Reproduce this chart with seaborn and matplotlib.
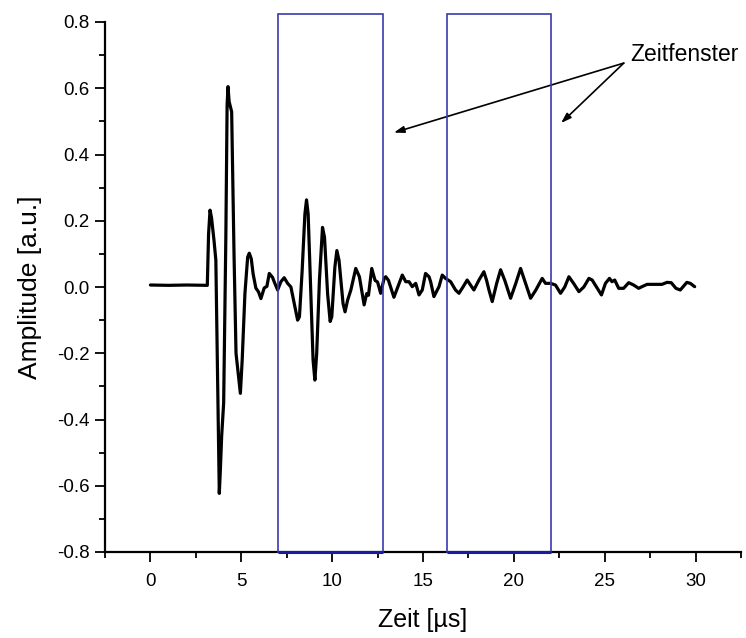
import matplotlib
matplotlib.use("Agg")
import matplotlib.pyplot as plt
import seaborn as sns
import pandas as pd
from matplotlib.patches import Rectangle
from matplotlib.ticker import MultipleLocator

# ---- data ----
time_us = [0.0, 1.0, 2.0, 3.13, 3.2, 3.28, 3.36, 3.5, 3.6, 3.7, 3.79, 3.85, 3.92, 4.03,
           4.15, 4.22, 4.27, 4.33, 4.47, 4.6, 4.71, 4.85, 4.95, 5.05, 5.2, 5.35, 5.44,
           5.55, 5.65, 5.8, 5.95, 6.08, 6.26, 6.41, 6.54, 6.72, 6.81, 7.0, 7.18, 7.36,
           7.55, 7.73, 7.95, 8.1, 8.2, 8.35, 8.5, 8.59, 8.68, 8.8, 8.95, 9.05, 9.15,
           9.3, 9.47, 9.58, 9.75, 9.89, 9.98, 10.15, 10.26, 10.38, 10.6, 10.71, 10.85,
           11.03, 11.3, 11.5, 11.76, 11.9, 12.0, 12.18, 12.36, 12.5, 12.67, 12.86,
           12.95, 13.1, 13.4, 13.86, 14.05, 14.23, 14.41, 14.6, 14.78, 14.96, 15.14,
           15.33, 15.42, 15.6, 15.88, 16.06, 16.24, 16.52, 16.79, 16.98, 17.2, 17.43,
           17.8, 18.08, 18.35, 18.5, 18.63, 18.81, 19.05, 19.27, 19.5, 19.82, 20.1,
           20.37, 20.65, 20.92, 21.2, 21.56, 21.74, 22.02, 22.29, 22.57, 22.8, 23.03,
           23.3, 23.58, 23.85, 24.13, 24.31, 24.55, 24.82, 25.04, 25.26, 25.4, 25.55,
           25.77, 26.04, 26.32, 26.59, 26.87, 27.05, 27.33, 28.15, 28.43, 28.66,
           28.92, 29.16, 29.52, 29.71, 29.95]
amplitude = [0.006, 0.005, 0.006, 0.005, 0.16, 0.232, 0.21, 0.14, 0.081, -0.3, -0.623,
             -0.55, -0.45, -0.35, 0.15, 0.55, 0.605, 0.56, 0.529, 0.1, -0.2, -0.27,
             -0.321, -0.22, -0.02, 0.09, 0.102, 0.085, 0.04, -0.003, -0.015, -0.035,
             -0.003, 0.002, 0.041, 0.029, 0.016, -0.009, 0.016, 0.028, 0.011, 0.0,
             -0.06, -0.1, -0.09, 0.05, 0.22, 0.263, 0.22, 0.02, -0.22, -0.281, -0.2,
             0.02, 0.18, 0.15, -0.02, -0.104, -0.09, 0.06, 0.11, 0.08, -0.05, -0.075,
             -0.04, -0.009, 0.056, 0.031, -0.054, -0.02, -0.025, 0.056, 0.02, 0.015,
             -0.019, 0.026, 0.031, 0.02, -0.031, 0.036, 0.016, 0.016, 0.001, 0.011,
             -0.024, -0.009, 0.041, 0.031, 0.016, -0.029, 0.001, 0.036, 0.026, 0.016,
             -0.009, -0.019, 0.0, 0.021, -0.009, 0.021, 0.046, 0.02, -0.009, -0.044,
             0.01, 0.052, 0.02, -0.034, 0.01, 0.056, 0.01, -0.034, -0.01, 0.026, 0.011,
             0.011, 0.006, -0.019, 0.0, 0.031, 0.01, -0.014, 0.0, 0.026, 0.021, 0.0,
             -0.024, 0.011, 0.026, 0.016, 0.021, -0.004, -0.004, 0.013, 0.006, -0.004,
             0.001, 0.008, 0.008, 0.014, 0.013, -0.004, -0.009, 0.014, 0.011, 0.001]

window_start = [7.0, 16.3]
window_end = [12.8, 22.05]
window_top = 0.824

x_ticks = [0, 5, 10, 15, 20, 25, 30]
y_ticks = [-0.8, -0.6, -0.4, -0.2, 0.0, 0.2, 0.4, 0.6, 0.8]

annot_text = "Zeitfenster"
annot_text_pos = (26.4, 0.703)
annot_tail = (26.05, 0.676)
annot_tips = [(13.4, 0.466), (22.6, 0.495)]

# ---- plotting ----
sns.set_style("ticks")
plt.rcParams['font.family'] = ['Liberation Sans', 'DejaVu Sans']
plt.rcParams['text.color'] = 'black'
plt.rcParams['axes.labelcolor'] = 'black'

fig = plt.figure(figsize=(7.46, 6.38), dpi=100)
ax = fig.add_axes([105 / 746, 1 - 552 / 638, (741 - 105) / 746, (552 - 22) / 638])

df = pd.DataFrame({"t": time_us, "a": amplitude})
sns.lineplot(data=df, x="t", y="a", ax=ax, color="black", linewidth=2.3,
             sort=False, estimator=None, zorder=3)
for ln in ax.lines:
    ln.set_solid_joinstyle("round")
    ln.set_solid_capstyle("round")

ax.set_xlim(-2.5, 32.5)
ax.set_ylim(-0.8, 0.8)
ax.set_xticks(x_ticks)
ax.set_xticklabels([str(v) for v in x_ticks])
ax.set_yticks(y_ticks)
ax.set_yticklabels([f"{v:.1f}" for v in y_ticks])
ax.xaxis.set_minor_locator(MultipleLocator(2.5))
ax.yaxis.set_minor_locator(MultipleLocator(0.1))

for s in ["top", "right"]:
    ax.spines[s].set_visible(False)
for s in ["left", "bottom"]:
    ax.spines[s].set_linewidth(1.6)
    ax.spines[s].set_color("black")

ax.tick_params(axis="both", which="major", direction="out", length=7, width=1.3,
               labelsize=13.5, colors="black", labelcolor="black", pad=4)
ax.tick_params(axis="both", which="minor", direction="out", length=4, width=1.3,
               colors="black")
ax.tick_params(axis="x", which="major", pad=8)

ax.set_xlabel("Zeit [µs]", fontsize=18, labelpad=13, color="black")
ax.set_ylabel("Amplitude [a.u.]", fontsize=19, labelpad=11, color="black")

for x0, x1 in zip(window_start, window_end):
    rect = Rectangle((x0, -0.8), x1 - x0, window_top + 0.8, fill=False,
                     edgecolor="#3a3aae", linewidth=1.2, clip_on=False, zorder=4)
    ax.add_patch(rect)
    ax.plot([x0, x1], [-0.8, -0.8], color="#1a1aa8", linewidth=2.2,
            clip_on=False, zorder=5, solid_capstyle="butt")

ax.text(annot_text_pos[0], annot_text_pos[1], annot_text, fontsize=16.5,
        ha="left", va="center", color="black")
for tip in annot_tips:
    ax.annotate("", xy=tip, xytext=annot_tail,
                arrowprops=dict(arrowstyle="-|>,head_length=0.6,head_width=0.2",
                                color="black", lw=1.2, shrinkA=0, shrinkB=0))

fig.savefig("out.png", dpi=100)
